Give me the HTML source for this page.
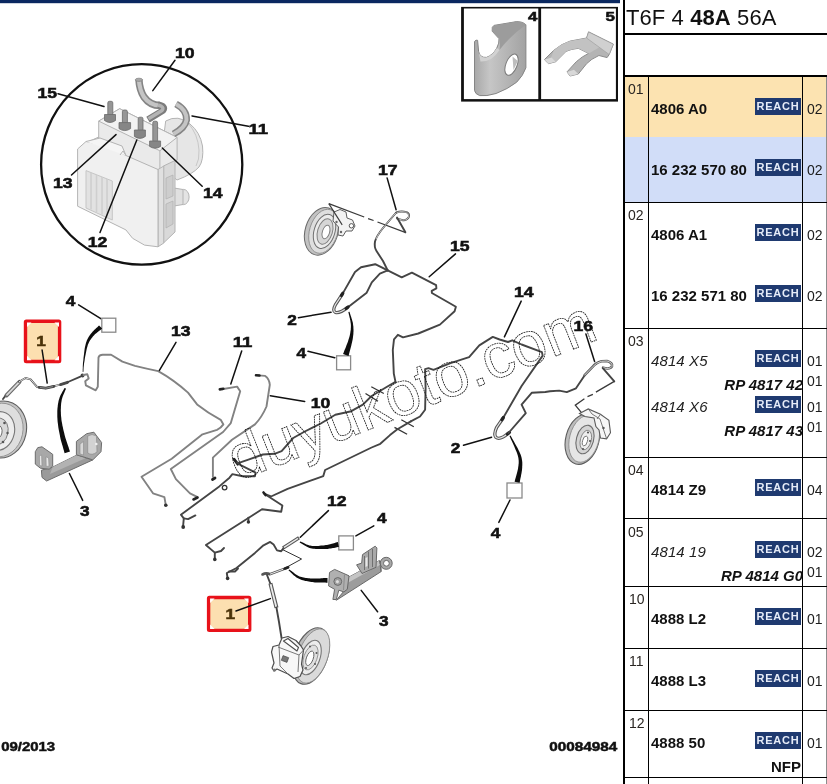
<!DOCTYPE html>
<html><head><meta charset="utf-8">
<style>
html,body{margin:0;padding:0;background:#fff;}
body{width:827px;height:784px;position:relative;overflow:hidden;font-family:"Liberation Sans",sans-serif;}
#dg{position:absolute;left:0;top:0;width:827px;height:784px;}
.a{position:absolute;}
.ln{position:absolute;background:#000;}
.num{position:absolute;font-size:14px;color:#2a2622;line-height:14px;white-space:nowrap;}
.pn{position:absolute;left:651px;font-size:15px;font-weight:bold;color:#111;line-height:15px;white-space:nowrap;letter-spacing:0;}
.pi{position:absolute;left:651px;font-size:15px;font-style:italic;color:#222;line-height:15px;white-space:nowrap;letter-spacing:0.1px;}
.rp{position:absolute;right:24px;font-size:15px;font-weight:bold;font-style:italic;color:#111;line-height:15px;white-space:nowrap;letter-spacing:0;}
.q{position:absolute;left:807px;font-size:14px;color:#1c1c1c;line-height:14px;white-space:nowrap;}
.rc{position:absolute;left:755px;width:46px;height:17px;background:#1f3a70;color:#e6ecf8;font-size:11px;font-weight:bold;line-height:17px;text-align:center;letter-spacing:0.8px;text-indent:0;}
</style></head><body><div id="wrap" style="position:absolute;left:0;top:0;width:827px;height:784px;will-change:transform;">
<!-- TABLE -->
<div class="a" style="left:625px;top:77px;width:201px;height:60px;background:#fce3b1"></div>
<div class="a" style="left:625px;top:137px;width:201px;height:65px;background:#d1ddf8"></div>
<div class="a" style="left:626px;top:5px;font-size:22px;line-height:26px;color:#111;white-space:nowrap;letter-spacing:0.1px">T6F 4 <b>48A</b> 56A</div>
<div class="ln" style="left:623px;top:0;width:2px;height:784px"></div>
<div class="ln" style="left:623px;top:33px;width:204px;height:2px"></div>
<div class="ln" style="left:623px;top:75px;width:204px;height:2px"></div>
<div class="ln" style="left:648px;top:77px;width:1px;height:707px"></div>
<div class="ln" style="left:802px;top:77px;width:1px;height:707px"></div>
<div class="ln" style="left:625px;top:202px;width:202px;height:1px"></div>
<div class="ln" style="left:625px;top:328px;width:202px;height:1px"></div>
<div class="ln" style="left:625px;top:457px;width:202px;height:1px"></div>
<div class="ln" style="left:625px;top:518px;width:202px;height:1px"></div>
<div class="ln" style="left:625px;top:586px;width:202px;height:1px"></div>
<div class="ln" style="left:625px;top:648px;width:202px;height:1px"></div>
<div class="ln" style="left:625px;top:710px;width:202px;height:1px"></div>
<div class="ln" style="left:625px;top:777px;width:202px;height:1px"></div>

<div class="num" style="left:628px;top:82px">01</div>
<div class="pn" style="top:101px">4806 A0</div><div class="rc" style="top:98px">REACH</div><div class="q" style="top:102px">02</div>
<div class="pn" style="top:162px">16 232 570 80</div><div class="rc" style="top:159px">REACH</div><div class="q" style="top:163px">02</div>

<div class="num" style="left:628px;top:208px">02</div>
<div class="pn" style="top:227px">4806 A1</div><div class="rc" style="top:224px">REACH</div><div class="q" style="top:228px">02</div>
<div class="pn" style="top:288px">16 232 571 80</div><div class="rc" style="top:285px">REACH</div><div class="q" style="top:289px">02</div>

<div class="num" style="left:628px;top:334px">03</div>
<div class="pi" style="top:353px">4814 X5</div><div class="rc" style="top:350px">REACH</div><div class="q" style="top:354px">01</div>
<div class="rp" style="top:377px">RP 4817 42</div><div class="q" style="top:374px">01</div>
<div class="pi" style="top:399px">4814 X6</div><div class="rc" style="top:396px">REACH</div><div class="q" style="top:400px">01</div>
<div class="rp" style="top:423px">RP 4817 43</div><div class="q" style="top:420px">01</div>

<div class="num" style="left:628px;top:463px">04</div>
<div class="pn" style="top:482px">4814 Z9</div><div class="rc" style="top:479px">REACH</div><div class="q" style="top:483px">04</div>

<div class="num" style="left:628px;top:525px">05</div>
<div class="pi" style="top:544px">4814 19</div><div class="rc" style="top:541px">REACH</div><div class="q" style="top:545px">02</div>
<div class="rp" style="top:568px">RP 4814 G0</div><div class="q" style="top:565px">01</div>

<div class="num" style="left:629px;top:592px">10</div>
<div class="pn" style="top:611px">4888 L2</div><div class="rc" style="top:608px">REACH</div><div class="q" style="top:612px">01</div>

<div class="num" style="left:629px;top:654px">11</div>
<div class="pn" style="top:673px">4888 L3</div><div class="rc" style="top:670px">REACH</div><div class="q" style="top:674px">01</div>

<div class="num" style="left:629px;top:716px">12</div>
<div class="pn" style="top:735px">4888 50</div><div class="rc" style="top:732px">REACH</div><div class="q" style="top:736px">01</div>
<div class="pn" style="left:auto;right:26px;top:759px">NFP</div>

<!-- DIAGRAM -->
<svg id="dg" width="827" height="784" viewBox="0 0 827 784">
<defs>
<style>
.lb{font-family:"Liberation Sans",sans-serif;font-weight:bold;font-size:14.5px;fill:#111;stroke:#111;stroke-width:.55px;text-anchor:middle;}
.ld{stroke:#111;stroke-width:1.5;fill:none;stroke-linecap:round;}
.pp{stroke:#454545;stroke-width:1.9;fill:none;stroke-linejoin:round;stroke-linecap:round;}
.pl{stroke:#828282;stroke-width:1.9;}
.hs{stroke:#111;fill:none;stroke-linecap:round;}
.sq{fill:#fff;stroke:#8a8a8a;stroke-width:1.3;}
</style>
</defs>
<!-- top bar -->
<rect x="0" y="0" width="620" height="3.2" fill="#0a2860"/>
<!-- right edge --><rect x="826.55" y="75" width=".45" height="709" fill="#000"/>
<!-- boxes 4/5 -->
<rect x="461.1" y="6.9" width="156.9" height="94.7" fill="#111"/>
<rect x="463.9" y="8.5" width="74.4" height="90.6" fill="#fff"/>
<rect x="541.1" y="8.5" width="74.8" height="90.6" fill="#fff"/>
<text class="lb" x="532.6" y="20.5" style="font-size:13px" textLength="9.4" lengthAdjust="spacingAndGlyphs">4</text>
<text class="lb" x="610.2" y="20.5" style="font-size:13px" textLength="9.4" lengthAdjust="spacingAndGlyphs">5</text>
<!-- clip 4 -->
<linearGradient id="g4" x1="0" y1="0" x2="1" y2="0"><stop offset="0" stop-color="#a8a8a8"/><stop offset=".3" stop-color="#c6c6c6"/><stop offset="1" stop-color="#a2a2a2"/></linearGradient>
<g stroke="#858585" stroke-width="1" stroke-linejoin="round">
<path d="M474.5,41.5 Q476,39.5 477.6,40.3 L478.6,51.4 Q480,58 486.5,57.4 Q493,55 496.8,48 Q499.5,43 499,38.6 L492.2,31.2 Q491.5,26.5 494,25.4 L516.7,21.6 Q523,21.5 525.9,24.7 L525.9,67.8 Q523,76 516.7,82.2 Q508,89 496.1,93.5 Q486,96.5 479.7,95.6 Q475,94 474.5,90.4 Z" fill="url(#g4)"/>
<path d="M494,25.4 L516.7,21.6 Q523,21.5 525.9,24.7 Q510,36 499.5,50 Q500.5,42 499,38.6 L492.2,31.2 Q491.5,26.5 494,25.4 Z" fill="#9c9c9c" stroke="none"/>
<path d="M478.6,51.4 Q480,58 486.5,57.4 Q493,55 496.8,48 L499.5,50 Q492,62 480.5,61.5 Z" fill="#d2d2d2" stroke="none"/>
<ellipse cx="511.5" cy="64.7" rx="5.6" ry="11.2" transform="rotate(22 511.5 64.7)" fill="#fff" stroke="#7a7a7a"/>
<path d="M512.5,56.5 L517.8,61 L513.5,70 Z" fill="#bdbdbd" stroke="none"/>
</g>
<!-- clip 5 -->
<g stroke="#8a8a8a" stroke-width="1" stroke-linejoin="round">
<path d="M544.4,59.6 L553.7,50.4 Q562,43.5 570.1,41.1 L586.6,38 L588.6,31.9 L613.3,44.2 L609.2,54.5 L607.1,57.6 L598.9,55.5 Q591,59 586.6,63.7 L578.3,74 L570.1,76 L567,71.9 L576.3,61.7 Q582,56.5 588.6,53.4 L578.3,48.3 Q571,49 566,51.4 L555.7,61.7 L548.5,63.7 Z" fill="#b4b4b4"/>
<path d="M553.7,50.4 Q562,43.5 570.1,41.1 L586.6,38 L600,47 L588.6,53.4 L578.3,48.3 Q571,49 566,51.4 L555.7,61.7 L551,58 Z" fill="#c2c2c2" stroke="none"/>
<path d="M588.6,31.9 L613.3,44.2 L609.2,54.5 L586.6,38 Z" fill="#d0d0d0" stroke="#9a9a9a" stroke-width=".6"/>
<path d="M544.4,59.6 L548.5,63.7 L555.7,61.7 L551.5,57.5 Z" fill="#d8d8d8" stroke="none"/>
<path d="M567,71.9 L570.1,76 L578.3,74 L574,69.8 Z" fill="#d8d8d8" stroke="none"/>
</g>
<!-- big circle -->
<ellipse cx="141.7" cy="164.4" rx="100.6" ry="100.2" fill="#fff" stroke="#111" stroke-width="2.3"/>
<!-- ABS unit -->
<g stroke="#b4b4b4" stroke-width="1" stroke-linejoin="round" fill="#ececec">
<!-- motor -->
<path d="M165.7,121 Q178,114 190,124 Q200,132 202.5,146 Q204,160 199,167 Q193,174 177,180 L160,166 Z" fill="#e6e6e6"/>
<path d="M188,123 Q198,134 199,150 Q199.5,160 196,166" fill="none" stroke="#c8c8c8"/>
<ellipse cx="183.5" cy="197" rx="5.6" ry="7.6" fill="#e4e4e4"/>
<path d="M174,188 L183,189.5 L183,204.5 L174,206 Z" fill="#e0e0e0"/>
<!-- valve block -->
<path d="M98.7,121.1 L119.7,108.7 L177.1,137.4 L177.1,160 L160,172 L98.7,146 Z" fill="#eaeaea"/>
<path d="M98.7,121.1 L119.7,108.7 L177.1,137.4 L159.9,150.8 Z" fill="#f2f2f2"/>
<path d="M159.9,150.8 L159.9,170" fill="none"/>
<path d="M89,141.5 L98.7,137 L98.7,146 L92,148 Z" fill="#e2e2e2"/>
<!-- connector block (right/back) -->
<path d="M163.5,166 L175,160.5 L175,232 L163.5,243 Z" fill="#d9d9d9"/>
<path d="M166,178 L173,175 L173,196 L166,199 Z M166,204 L173,201 L173,224 L166,228 Z" fill="#cdcdcd" stroke="#b0b0b0" stroke-width=".7"/>
<!-- ecu lid -->
<path d="M158,169.5 L163.8,166 L163.8,243 L158,246.8 Z" fill="#e0e0e0"/>
<path d="M77.6,149 L86,141.5 L109,146.5 L126,155.5 L158,169.5 L158,246.8 L144.5,245.1 L132.6,238.3 L125.9,229.9 L77.6,206.2 Z" fill="#f0f0f0"/>
<path d="M86,141.5 L100,138 L122,146 L126,155.5" fill="#f5f5f5"/>
<path d="M86,170.6 L112.3,181 L112.3,220 L86,208 Z" fill="#e2e2e2" stroke="#c6c6c6"/>
<path d="M91,173 L91,209.5 M96.5,175 L96.5,212 M102,177 L102,214.5 M107,179 L107,217" fill="none" stroke="#cfcfcf" stroke-width="1.6"/>
<path d="M120,155 L123,151 L126,155.5" fill="none"/>
</g>
<!-- pipes on unit -->
<g fill="none" stroke-linecap="butt" stroke-linejoin="round">
<path d="M176,104 Q187,110 186.5,120 Q185,128 173.5,134" stroke="#858585" stroke-width="7"/>
<path d="M176,104 Q187,110 186.5,120 Q185,128 173.5,134" stroke="#c4c4c4" stroke-width="4"/>
<path d="M138.9,79.5 Q139.5,90 144,97 Q150,105.5 160,105.5" stroke="#858585" stroke-width="7.4"/>
<path d="M138.9,79.5 Q139.5,90 144,97 Q150,105.5 160,105.5" stroke="#c4c4c4" stroke-width="4.2"/>
<path d="M158,104.8 Q166,106 163,110.5 L148,119.6" stroke="#7c7c7c" stroke-width="6.6"/>
<path d="M158,105 Q165,106.5 162,110.5 L148.5,118.8" stroke="#b4b4b4" stroke-width="3.4"/>
<ellipse cx="138.9" cy="79.8" rx="3.6" ry="1.6" fill="#a8a8a8" stroke="#858585" stroke-width=".8"/>
</g>
<!-- bolts -->
<g stroke="#6a6a6a" stroke-width=".8" fill="#969696">
<rect x="107.8" y="101.3" width="5" height="15" rx="1.6"/><path d="M104.5,114.5 h11 v6 q-5.5,4 -11,0 z" fill="#868686"/>
<rect x="122.4" y="110" width="5" height="14" rx="1.6"/><path d="M119,122.6 h11.6 v6 q-5.8,4 -11.6,0 z" fill="#868686"/>
<rect x="138.2" y="117.2" width="4.8" height="14" rx="1.6"/><path d="M134.4,130 h11 v6.4 q-5.5,4 -11,0 z" fill="#868686"/>
<rect x="152.8" y="121.2" width="4.8" height="21" rx="1.6"/><path d="M149.6,141 h11 v5.4 q-5.5,3.6 -11,0 z" fill="#868686"/>
</g>
<!-- circle labels -->
<line class="ld" x1="175" y1="60.3" x2="152.8" y2="90.6"/>
<line class="ld" x1="58" y1="93.8" x2="104" y2="106.5"/>
<line class="ld" x1="248.4" y1="126.3" x2="192" y2="116"/>
<line class="ld" x1="71.5" y1="175" x2="116" y2="134.6"/>
<line class="ld" x1="202.2" y1="186.3" x2="162.3" y2="148"/>
<line class="ld" x1="100" y1="232.5" x2="136.8" y2="140"/>
<text class="lb" x="184.7" y="58" textLength="19.6" lengthAdjust="spacingAndGlyphs">10</text>
<text class="lb" x="47.3" y="98" textLength="19.6" lengthAdjust="spacingAndGlyphs">15</text>
<text class="lb" x="258.3" y="133.6" textLength="19.6" lengthAdjust="spacingAndGlyphs">11</text>
<text class="lb" x="62.7" y="188.3" textLength="19.6" lengthAdjust="spacingAndGlyphs">13</text>
<text class="lb" x="212.7" y="198.3" textLength="19.6" lengthAdjust="spacingAndGlyphs">14</text>
<text class="lb" x="97.5" y="246.6" textLength="19.6" lengthAdjust="spacingAndGlyphs">12</text>
<!-- ===== left-front group ===== -->
<!-- disc left (cut) -->
<g stroke="#5e5e5e" stroke-width="1.1">
<ellipse cx="2" cy="429.5" rx="24.4" ry="28.6" transform="rotate(12 2 429.5)" fill="#c4c4c4"/>
<ellipse cx="0.5" cy="430" rx="22.4" ry="27" transform="rotate(12 0.5 430)" fill="#dedede" stroke="#8a8a8a" stroke-width=".8"/>
<ellipse cx="-1" cy="431" rx="15.5" ry="19.5" transform="rotate(12 -1 431)" fill="#ededed" stroke="#777"/>
<ellipse cx="-2" cy="431.5" rx="10" ry="13.5" transform="rotate(12 -2 431.5)" fill="#d8d8d8" stroke="#777" stroke-width=".9"/>
<ellipse cx="-3" cy="432" rx="5" ry="7" transform="rotate(12 -3 432)" fill="#fff" stroke="#666" stroke-width=".9"/>
<circle cx="4.5" cy="423" r="1.3" fill="#555" stroke="none"/><circle cx="3" cy="442" r="1.3" fill="#555" stroke="none"/><circle cx="7.5" cy="433" r="1.2" fill="#555" stroke="none"/>
</g>
<!-- hose 1 left -->
<path class="pp" d="M3,399 L6,395"/>
<path d="M6.4,395.5 L19.5,381.8" stroke="#6a6a6a" stroke-width="4" fill="none" stroke-linecap="round"/>
<path d="M7,394.8 L19,382.3" stroke="#d6d6d6" stroke-width="1.9" fill="none" stroke-linecap="round"/>
<path class="pp" d="M19,381.8 L25.5,378 L30.6,379.3 L37,386.9 L45.9,388.2 L61.2,384.4 L67.6,382.3" stroke-width="2.8" stroke="#5a5a5a"/>
<path d="M19,381.8 L25.5,378 L30.6,379.3 L37,386.9 L45.9,388.2 L61.2,384.4 L67.6,382.3" stroke="#dcdcdc" stroke-width="1" fill="none"/>
<path d="M39,387.4 L45.9,388.2 L54,386.3 M60.5,384.6 L67.6,382.3" stroke="#4a4a4a" stroke-width="2.8" fill="none" stroke-linecap="round"/>
<path d="M40,387.5 L45.9,388.2 L53,386.5" stroke="#9a9a9a" stroke-width=".8" fill="none"/>
<path class="pp" d="M68,382 L80.4,376.7" stroke-width="1.2"/>
<circle cx="82.5" cy="375.6" r="2" fill="#444"/>
<!-- black hose down to bracket -->
<!-- bracket 3 left -->
<g stroke="#6c6c6c" stroke-width="1" stroke-linejoin="round">
<path d="M52.7,467.1 L76.4,455.3 L92.8,459.9 L46.6,481 L42,477.4 L41.4,470.2 Z" fill="#9a9a9a"/>
<path d="M52.7,467.1 L76.4,455.3 L86,458 L50,474 Z" fill="#b2b2b2" stroke="none"/>
<path d="M35.3,464.1 L35.3,451.7 L37.8,447.6 L42,446.8 L52.7,454.3 L52.7,466.1 L49.2,469.2 L40.4,468.2 Z" fill="#a8a8a8"/>
<path d="M39.4,455.8 L41.6,455 L42,466 L39.6,465.6 Z M46,456.8 L48.6,458 L49,466.2 L46.2,466.4 Z" fill="#e6e6e6" stroke="#8a8a8a" stroke-width=".6"/>
<path d="M76.4,454.8 L76.4,441.4 L86.7,433.7 L93.9,432.2 L101.6,442.5 L101,451.7 L92.8,459.9 L86.7,457.9 Z" fill="#a8a8a8"/>
<path d="M87.7,436 Q92,433 96.5,436 L97,452 Q92,456 87.7,453 Z" fill="#d2d2d2" stroke="#8a8a8a" stroke-width=".7"/>
<path d="M80,444 L83.5,441.5 L83.5,455 L80,454 Z" fill="#d8d8d8" stroke="#8a8a8a" stroke-width=".6"/>
<circle cx="96.3" cy="444" r="1.3" fill="#eee" stroke="none"/>
</g>
<line class="ld" x1="69.4" y1="473.5" x2="82.7" y2="500.4"/>
<text class="lb" x="84.7" y="516.3" textLength="9.6" lengthAdjust="spacingAndGlyphs">3</text>
<!-- red box 1 (left) -->
<rect x="25.5" y="321.3" width="34.1" height="40.2" rx=".8" fill="#fcdfb0" stroke="#e8121a" stroke-width="3.4"/>
<path d="M27,322.5 l4.5,0 l-4.5,4.5 z M59,322.5 l-4.5,0 l4.5,4.5 z M27,360.2 l4.5,0 l-4.5,-4.5 z M59,360.2 l-4.5,0 l4.5,-4.5 z" fill="#fff"/>
<text class="lb" x="41" y="346" style="font-size:15px;fill:#4a3208;stroke:#4a3208" textLength="9.6" lengthAdjust="spacingAndGlyphs">1</text>
<line class="ld" x1="42.1" y1="350" x2="47.2" y2="383.1" stroke-width="1.3"/>
<!-- 4 + square left top -->
<text class="lb" x="70.5" y="306" textLength="9.6" lengthAdjust="spacingAndGlyphs">4</text>
<line class="ld" x1="78.6" y1="304.8" x2="100.8" y2="318.6"/>
<rect class="sq" x="101.8" y="318.2" width="14" height="14"/>
<!-- pipe 13 -->
<path class="pp pl" d="M83.5,375 L87.3,374.2 L88.7,378.4 L85.2,381.2 L85.9,385.4 L95.7,390.3 L97.8,386.8 L98.5,357.3 Q99.5,354.8 102.7,354.8 L111.1,354.8 L122.4,361.6 L135,365.8 Q146,368.5 158.2,371.1 Q174,380 188,392.6 L197.1,404.4 Q208,413 220.7,419.8 L223.4,424.4 Q221,428 217,429.8 L202.5,434.3 L171.7,458.8 L141.5,476.7 L153,493.3 L164.4,497.1 L165.7,504.7"/>
<circle cx="165.8" cy="505.2" r="1.8" fill="#333"/>
<text class="lb" x="180.7" y="335.9" textLength="19.6" lengthAdjust="spacingAndGlyphs">13</text>
<line class="ld" x1="176" y1="342.3" x2="159.4" y2="370.4"/>
<!-- pipe 11 -->
<path class="pp pl" d="M222,389.2 L237.1,386.6 L240.2,391.2 L230.8,423.1 L223.1,432 L170.8,469 L175.9,479.2 L190,493.3 L197.6,497.1"/>
<path d="M219.8,389.4 l3.5,-.6" stroke="#222" stroke-width="2.6" stroke-linecap="round"/>
<path d="M193.5,499.5 l4,-2" stroke="#222" stroke-width="2.6" stroke-linecap="round"/>
<text class="lb" x="242.6" y="346.6" textLength="19.6" lengthAdjust="spacingAndGlyphs">11</text>
<line class="ld" x1="241.7" y1="350.9" x2="230.8" y2="384.1"/>
<!-- pipe 10 -->
<path class="pp pl" d="M258,375.4 L265.2,375.9 Q269.5,379 269.8,384.8 L266.5,406.5 Q262,417 255,424.4 L232,439.7 L212.9,457.6 L212.9,476.7"/>
<path d="M256,375.3 l3.5,.2" stroke="#222" stroke-width="2.6" stroke-linecap="round"/>
<path d="M212.5,479.5 l2.5,-1.5" stroke="#222" stroke-width="2.8" stroke-linecap="round"/>
<text class="lb" x="320.5" y="407.8" textLength="19.6" lengthAdjust="spacingAndGlyphs">10</text>
<line class="ld" x1="304.7" y1="401.4" x2="270.3" y2="395.8"/>
<!-- ===== disc 17 ===== -->
<g stroke="#6a6a6a" stroke-width="1">
<ellipse cx="321.6" cy="231.3" rx="16.4" ry="24.4" transform="rotate(17 321.6 231.3)" fill="#c2c2c2"/>
<ellipse cx="323.6" cy="231.3" rx="14" ry="22.6" transform="rotate(17 323.6 231.3)" fill="#dedede" stroke="#8a8a8a" stroke-width=".8"/>
<ellipse cx="324.5" cy="231.4" rx="10.4" ry="17.6" transform="rotate(17 324.5 231.4)" fill="#ebebeb" stroke="#707070"/>
<ellipse cx="325" cy="231.5" rx="7.4" ry="13" transform="rotate(17 325 231.5)" fill="#d6d6d6" stroke="#808080"/>
<ellipse cx="326" cy="232" rx="3.6" ry="7" transform="rotate(17 326 232)" fill="#fff" stroke="#808080"/>
<path d="M334,212 L340,209.5 L346,212 L347,218 L352.5,220 L355,226 L352,231 L346,231 L343,236 L338,235 L338.5,227 L333,221 Z" fill="#f2f2f2" stroke="#5e5e5e"/>
<circle cx="351.4" cy="225.8" r="2.2" fill="#fff" stroke="#555"/>
<circle cx="336.5" cy="222" r="1.2" fill="#666" stroke="none"/><circle cx="341" cy="232" r="1.2" fill="#666" stroke="none"/>
</g>
<path d="M328.8,203.6 L364.2,217 M368.1,218.6 L373.6,220.5 M377.5,222 L405.8,232.7" stroke="#3a3a3a" stroke-width="1.3" fill="none"/>
<path d="M328.8,203.6 L342.2,224.9" stroke="#3a3a3a" stroke-width="1.1" fill="none"/>
<!-- hose 17 -->
<path class="pp" d="M396.4,212.5 Q401,210.8 406.6,212.2 Q410.2,214 408.6,217.6 Q406.5,220.8 402.5,220.2 L397.2,218.6" stroke-width="2.4" stroke="#5a5a5a"/>
<path d="M396.4,212.5 Q401,210.8 406.6,212.2 Q410.2,214 408.6,217.6 Q406.5,220.8 402.5,220.2 L397.2,218.6" stroke="#e4e4e4" stroke-width=".8" fill="none"/>
<path class="pp" d="M397,217.5 L405.4,232.2" stroke-width="1.1"/>
<path class="pp" d="M395.8,213 L383,228 Q376.5,236 375,241.5 Q374,247 376.5,251 L383,261 L387.7,270.4" stroke-width="2.2" stroke="#5a5a5a"/>
<path d="M395.8,213 L383,228 Q378,234 376,239" stroke="#e4e4e4" stroke-width=".8" fill="none"/>
<text class="lb" x="387.8" y="175" textLength="19.6" lengthAdjust="spacingAndGlyphs">17</text>
<line class="ld" x1="387.1" y1="177.9" x2="396.1" y2="209.7"/>
<!-- pipe 15 -->
<path class="pp" d="M387.7,270.4 L401.7,277.4 L411.9,272.7 L436.1,285.1 L436.4,288.3 L431.7,290.8 L431.9,293 L455.9,306.8 L454.6,311.2 L439.9,324.6 L418.3,333.5 L403,337.4 L397.9,334.8 L394,339.3 L392.8,350 L393.8,373.6 L395.5,381.9"/>
<text class="lb" x="459.8" y="250.7" textLength="19.6" lengthAdjust="spacingAndGlyphs">15</text>
<line class="ld" x1="455.5" y1="253.9" x2="429.2" y2="276.8"/>
<!-- left branch to hose 2 -->
<path class="pp" d="M387.7,270.4 L375.2,264.2 L361,267.3 L355,272 L342.5,293.9 L335,305" stroke-width="1.8"/>
<path class="pp" d="M387.7,270.4 L379.9,273.6 L371.8,282.4 L366.7,292.7 L347.6,307.4" stroke-width="1.8"/>
<path d="M342.5,293.9 L335.5,304.5 Q332,311 335.5,312.5 Q340,313.5 347.6,307.4" stroke="#555" stroke-width="3.3" fill="none" stroke-linecap="round"/>
<path d="M342.5,293.9 L335.5,304.5 Q332,311 335.5,312.5 Q340,313.5 347.6,307.4" stroke="#e4e4e4" stroke-width="1.2" fill="none" stroke-linecap="round"/>
<path d="M341.3,295.6 l1.6,-2.4 M346,308.6 l2.2,-1.8" stroke="#222" stroke-width="3" stroke-linecap="round"/>
<text class="lb" x="292" y="324.5" textLength="9.6" lengthAdjust="spacingAndGlyphs">2</text>
<line class="ld" x1="298.4" y1="317.7" x2="331" y2="312.3"/>
<rect class="sq" x="336.6" y="355.8" width="14" height="14"/>
<text class="lb" x="301.4" y="357.7" textLength="9.6" lengthAdjust="spacingAndGlyphs">4</text>
<line class="ld" x1="308" y1="351.3" x2="334.8" y2="357.7"/>
<!-- ===== main harness upper line (14) ===== -->
<path class="pp" d="M238.2,463.2 L248.4,459.6 L262.9,454.5 L274.5,453.8 L281.6,451.1 L293.2,438 L304.8,431.5 L320.8,423.5 L335.3,414.8 L351.3,411.2 L362.9,404.7 L371.6,396 L386.6,387 L395.5,381.9"/>
<path class="pp" d="M410.8,421.4 L420,416.5 L425.1,409.7 L425.6,388.3 L425.1,369.1 L428.5,368.2 L433.5,369.9 L450.5,363.2 L469.1,357.2 L479.3,345.4 L492.8,336.9 L499.6,339.5 L508,342 L512.3,340.3 L521.6,344.5 L541.9,352.2 L542.7,355.6 L521.6,386 L503,418.2"/>
<path d="M234,459.2 L237.8,464.2" stroke="#222" stroke-width="2.8" stroke-linecap="round" fill="none"/>
<!-- break marks -->
<path d="M371.3,386.8 L383.8,393.5 M365.5,393.5 L378,401.3 M394.5,427.4 L407.1,434.2 M401.3,419.7 L413.8,426.8" stroke="#333" stroke-width="1.3" fill="none"/>
<text class="lb" x="523.7" y="297.2" textLength="19.6" lengthAdjust="spacingAndGlyphs">14</text>
<line class="ld" x1="521.2" y1="301.1" x2="504.4" y2="336.9"/>
<!-- hose 2 right -->
<path d="M503,418.2 L496.6,427.5 Q493.5,434.5 495.8,437.3 Q500,440.6 508.5,433" stroke="#555" stroke-width="3.3" fill="none" stroke-linecap="round"/>
<path d="M503,418.2 L496.6,427.5 Q493.5,434.5 495.8,437.3 Q500,440.6 508.5,433" stroke="#e4e4e4" stroke-width="1.2" fill="none" stroke-linecap="round"/>
<path d="M501.8,419.8 l1.6,-2.4 M507.4,434.2 l2.2,-1.8" stroke="#222" stroke-width="3" stroke-linecap="round"/>
<path class="pp" d="M508.5,433 L525.8,413.1 L521.6,404.6 L531.7,392.8 L545.3,392 L550,391.3 L559.2,390.6 L566.8,392.1 L576,388.3 L584.4,375.8" stroke-width="1.8"/>
<path d="M584.4,375.3 L592.3,367.2 Q596,362.5 601.5,361.3 L607,361 Q612.8,362.6 612,366.4 Q610,369.8 603,367.6" stroke="#5a5a5a" stroke-width="2.5" fill="none" stroke-linecap="round"/>
<path d="M584.4,375.3 L592.3,367.2 Q596,362.5 601.5,361.3 L607,361 Q612.8,362.6 612,366.4 Q610,369.8 603,367.6" stroke="#e4e4e4" stroke-width=".9" fill="none"/>
<path class="pp" d="M602.8,368.2 L614.3,381.4" stroke-width="1.3"/>
<path d="M614.3,381.4 L595.9,392.1 M592.9,394.4 L587.5,396.7 M584.4,398.7 L575.3,405.1 L582.9,414.3" stroke="#3a3a3a" stroke-width="1.3" fill="none"/>
<text class="lb" x="583.2" y="331" textLength="19.6" lengthAdjust="spacingAndGlyphs">16</text>
<line class="ld" x1="585.9" y1="334" x2="594.6" y2="361.5"/>
<text class="lb" x="455.6" y="452.6" textLength="9.6" lengthAdjust="spacingAndGlyphs">2</text>
<line class="ld" x1="463.5" y1="445.3" x2="491.6" y2="437.3"/>
<rect class="sq" x="507" y="483" width="15" height="15"/>
<text class="lb" x="495.5" y="538.4" textLength="9.6" lengthAdjust="spacingAndGlyphs">4</text>
<line class="ld" x1="510" y1="500" x2="498.8" y2="522.4"/>
<!-- disc 16 -->
<g stroke="#5c5c5c" stroke-width="1.1">
<ellipse cx="582.4" cy="439.2" rx="16.6" ry="25.6" transform="rotate(15 582.4 439.2)" fill="#bdbdbd"/>
<ellipse cx="584.2" cy="438.8" rx="14.6" ry="24" transform="rotate(15 584.2 438.8)" fill="#e6e6e6" stroke="#8a8a8a" stroke-width=".8"/>
<ellipse cx="585" cy="439.5" rx="8.6" ry="14.6" transform="rotate(15 585 439.5)" fill="#d4d4d4" stroke="#6e6e6e"/>
<ellipse cx="585.8" cy="440" rx="5.4" ry="10" transform="rotate(15 585.8 440)" fill="#ededed" stroke="#7a7a7a" stroke-width=".8"/>
<ellipse cx="585" cy="441" rx="2.4" ry="5" transform="rotate(15 585 441)" fill="#fff" stroke="#666" stroke-width=".8"/>
<circle cx="588" cy="432.5" r="1.1" fill="#555" stroke="none"/><circle cx="583" cy="449" r="1.1" fill="#555" stroke="none"/><circle cx="590" cy="441" r="1.1" fill="#555" stroke="none"/>
<path d="M579.5,413.5 L588.3,408.9 L600.5,414.3 L608.9,420.4 L610.5,432.7 L606.6,438.8 L600.5,438 L599,430 L595.9,426.5 L594,418 L585,416.5 Z" fill="#f6f6f6" stroke="#5a5a5a"/>
<path d="M588.3,408.9 L592,414 L600,419 L603,428 L606.6,438.8 M600.5,414.3 L597,419" fill="none" stroke="#6a6a6a" stroke-width=".9"/>
<circle cx="603.5" cy="428" r="1.2" fill="#555" stroke="none"/>
</g>
<!-- ===== lower harness lines ===== -->
<!-- line B -->
<path class="pp" d="M183.1,526 L183.8,518.4 L180.9,514.7 L219.3,486.4 L229.5,477.7 L232.4,474.1 L242.5,476.3 L254.9,476.3 L255.6,472.6 L241.1,465.4 L237,462.5"/>
<path class="pp" d="M183.8,518.4 L188.1,519.1 L195.4,515.4"/>
<circle cx="224.6" cy="487.6" r="2.3" fill="none" stroke="#333" stroke-width="1.3"/>
<circle cx="183.2" cy="527" r="1.9" fill="#333"/>
<!-- line C (12 lower pipe) -->
<path class="pp" d="M264.6,494 L271,496.5 L287.6,488.9 L323.3,476.1 L325.1,470 L371.6,447.5 L380.3,443.8 L390,435.1 L397.4,429.3 L410.8,421.4"/>
<path class="pp" d="M264.6,494 L282.4,505.5 L281.2,511.8 L262,509.3 L248,518.2 L205.9,545 L214.8,552.6 L214.8,558"/>
<path d="M263.5,492.5 l2.2,2.6" stroke="#222" stroke-width="2.6" stroke-linecap="round"/>
<path class="pp" d="M214.8,552.6 L221,551 L224,548"/>
<path class="pp" d="M248.4,517.6 L248.4,521"/><circle cx="248.4" cy="522" r="1.7" fill="#333"/>
<circle cx="214.8" cy="559.4" r="1.8" fill="#333"/>
<!-- line D -->
<path class="pp" d="M227.4,577 L226.8,573 L236.5,568 L255,552.9 L263.5,545.3 L270.2,541.9 L273.6,544.5 L277,550.4 L281.2,551.2 L283.8,547.9"/>
<path class="pp" d="M229,571.5 L235,571.5 L238,568.5"/>
<circle cx="227.6" cy="578.4" r="1.8" fill="#333"/>
<path d="M283,548 L299,537.8" stroke="#555" stroke-width="3.4" stroke-linecap="butt" fill="none"/>
<path d="M284,547.4 L298,538.4" stroke="#e8e8e8" stroke-width="1.4" fill="none"/>
<path d="M282.4,549.5 L301.6,559 L287.6,566.7" stroke="#333" stroke-width="1" fill="none"/>
<text class="lb" x="336.7" y="506.3" textLength="19.6" lengthAdjust="spacingAndGlyphs">12</text>
<line class="ld" x1="328.4" y1="510.6" x2="300.3" y2="537.3"/>
<!-- connector 1 lower -->
<path d="M262.5,574.5 Q266,572.5 270,574.2 L287.6,567.6" stroke="#555" stroke-width="2.6" fill="none" stroke-linecap="round"/>
<path d="M270,574.2 L283,569.3" stroke="#e8e8e8" stroke-width="1" fill="none"/>
<path d="M285,568.5 l3.2,-1.2" stroke="#222" stroke-width="2.6" stroke-linecap="round"/>
<path class="pp" d="M267,575 L270.3,583.5"/>
<path d="M270.4,583.3 L276.5,607.8" stroke="#555" stroke-width="4" fill="none"/>
<path d="M270.6,584.2 L276.2,606.8" stroke="#ececec" stroke-width="1.8" fill="none"/>
<path class="pp" d="M276.5,607.8 L279,622 L281.6,638.4" stroke-width="1.3"/>
<!-- black hoses -->
<rect class="sq" x="338.8" y="535.9" width="14.6" height="14"/>
<text class="lb" x="381.8" y="523" textLength="9.6" lengthAdjust="spacingAndGlyphs">4</text>
<line class="ld" x1="373.8" y1="525.9" x2="355.9" y2="535.9"/>
<!-- bracket 3 right -->
<g stroke="#686868" stroke-width="1" stroke-linejoin="round">
<path d="M336.3,600.3 L381.1,571.6 L379.4,560.6 L348.1,577.5 L344,591 Z" fill="#9c9c9c"/>
<path d="M348.1,577.5 L379.4,560.6 L380,565 L347.5,583 Z" fill="#c4c4c4" stroke="none"/>
<path d="M356.6,564.8 L361.7,563.1 L362.5,554.6 L375.2,546.2 L376.9,547.9 L376,567.3 L362,573.5 Z" fill="#aaaaaa"/>
<path d="M364.5,556 L364.5,570 M368.5,551.5 L368.5,568.5 M372.5,549 L372.5,567" stroke="#6f6f6f" fill="none"/>
<path d="M365.5,558 L367.5,557 L367.5,566 L365.5,567 Z" fill="#e8e8e8" stroke="none"/>
<circle cx="386.2" cy="563.3" r="6" fill="#a8a8a8"/><circle cx="386.4" cy="563.3" r="2.9" fill="#fff"/>
<path d="M379.4,560.6 L381,566.5 L381.1,571.6" fill="none"/>
<path d="M329.5,572.4 L334.6,569.4 L349,575.8 L347.3,589.3 L343.9,591.9 L338.8,590.2 L336.3,599.5 L332.9,599.5 L334.6,589.3 L328.6,585.9 Z" fill="#b0b0b0"/>
<circle cx="337.8" cy="581.5" r="3.9" fill="#a2a2a2"/><circle cx="337.4" cy="581.7" r="2" fill="#dedede" stroke="#8a8a8a" stroke-width=".6"/>
<path d="M344.5,574.5 L343.5,590" fill="none" stroke="#8c8c8c"/>
</g>
<text class="lb" x="383.7" y="626" textLength="9.6" lengthAdjust="spacingAndGlyphs">3</text>
<line class="ld" x1="361.2" y1="590.4" x2="377.6" y2="611.8"/>
<!-- red box 1 lower -->
<rect x="208.6" y="597.5" width="41.1" height="32.9" rx=".8" fill="#fcdfb0" stroke="#e8121a" stroke-width="3.4"/>
<path d="M210.1,598.5 l4.5,0 l-4.5,4.5 z M248.5,598.5 l-4.5,0 l4.5,4.5 z M210.1,629.1 l4.5,0 l-4.5,-4.5 z M248.5,629.1 l-4.5,0 l4.5,-4.5 z" fill="#fff"/>
<text class="lb" x="230.2" y="618.7" style="font-size:15px;fill:#4a3208;stroke:#4a3208" textLength="9.6" lengthAdjust="spacingAndGlyphs">1</text>
<line class="ld" x1="236" y1="611" x2="270.4" y2="598.6" stroke-width="1.3"/>
<!-- caliper + disc 1 -->
<g stroke="#5e5e5e" stroke-width="1.1" stroke-linejoin="round">
<ellipse cx="311" cy="656" rx="16.4" ry="29.4" transform="rotate(20 311 656)" fill="#bcbcbc"/>
<ellipse cx="313" cy="656" rx="14.6" ry="28.4" transform="rotate(20 313 656)" fill="#dadada" stroke="#8a8a8a" stroke-width=".8"/>
<ellipse cx="310.5" cy="657.5" rx="9.4" ry="18" transform="rotate(20 310.5 657.5)" fill="#ececec" stroke="#777"/>
<ellipse cx="310.5" cy="657.5" rx="6.6" ry="13" transform="rotate(20 310.5 657.5)" fill="#e0e0e0" stroke="#8a8a8a" stroke-width=".8"/>
<ellipse cx="309.8" cy="658.3" rx="3.4" ry="7.6" transform="rotate(20 309.8 658.3)" fill="#fff" stroke="#666" stroke-width=".9"/>
<circle cx="310" cy="646.5" r="1" fill="#555" stroke="none"/><circle cx="316.5" cy="653" r="1" fill="#555" stroke="none"/><circle cx="315" cy="664" r="1" fill="#555" stroke="none"/><circle cx="306" cy="668" r="1" fill="#555" stroke="none"/>
<path d="M271.5,652 L273,646.5 L279,645 L282,638 L288,636.5 L296,640.5 L301,646 L303.5,650 L301.5,664 L303,670 L300,676.5 L294,678.5 L288,674 L277,669 L274,671 L272,668 L274,663 Z" fill="#f7f7f7" stroke="#4e4e4e" stroke-width="1.2"/>
<path d="M283.5,641 L288,638.5 L298.5,647.5 L297,651 Z" fill="#fff" stroke="#4e4e4e"/>
<path d="M278,647 L299,655 L298,672 M279,645 L280,666 L288,674 M299,655 L303.5,650" fill="none" stroke="#6a6a6a" stroke-width=".9"/>
<rect x="282" y="656.5" width="6" height="5" fill="#777" stroke="#444" stroke-width=".6" transform="rotate(20 285 659)"/>
<circle cx="274.5" cy="670" r="1.6" fill="#777" stroke="none"/>
</g>
<!-- date / ref -->
<text x="1.2" y="750.8" textLength="54" lengthAdjust="spacingAndGlyphs" style='font-family:"Liberation Sans",sans-serif;font-weight:bold;font-size:13px;fill:#111;stroke:#111;stroke-width:.5px'>09/2013</text>
<text x="549.2" y="750.8" textLength="68" lengthAdjust="spacingAndGlyphs" style='font-family:"Liberation Sans",sans-serif;font-weight:bold;font-size:13px;fill:#111;stroke:#111;stroke-width:.5px'>00084984</text>
<!-- watermark -->
<text x="238.1" y="481.2" transform="rotate(-21.5 238.1 481.2)" style='font-family:"Liberation Sans",sans-serif;font-size:62.5px;fill:none;stroke:#111;stroke-width:.8px;stroke-dasharray:1.8 .7'>duyukoto.com</text>
<!-- hoses -->
<path d="M83.3,372.0 L83.4,371.2 L83.5,370.4 L83.5,369.7 L83.5,368.9 L83.6,368.2 L83.6,367.5 L83.7,366.7 L83.8,365.9 L83.9,365.0 L84.0,364.1 L84.1,363.2 L84.3,362.1 L84.5,360.9 L84.7,359.6 L84.9,358.1 L85.2,356.6 L85.5,355.1 L85.8,353.5 L86.1,352.0 L86.4,350.4 L86.7,349.0 L87.1,347.6 L87.5,346.3 L87.8,345.1 L88.2,344.1 L88.6,343.2 L89.0,342.3 L89.4,341.5 L89.8,340.7 L90.2,340.0 L90.7,339.4 L91.2,338.7 L91.7,338.0 L92.2,337.4 L92.7,336.7 L93.3,336.0 L93.9,335.4 L94.5,334.8 L95.2,334.1 L95.9,333.5 L96.6,332.9 L97.4,332.3 L98.1,331.7 L98.9,331.1 L99.7,330.5 L100.5,329.9 L101.3,329.3 L102.1,328.6 L99.1,325.4 L98.4,326.1 L97.8,326.7 L97.0,327.4 L96.3,328.1 L95.6,328.7 L94.8,329.4 L94.1,330.1 L93.4,330.9 L92.7,331.6 L92.0,332.4 L91.3,333.2 L90.7,334.0 L90.1,334.7 L89.6,335.5 L89.1,336.3 L88.6,337.0 L88.2,337.8 L87.8,338.6 L87.3,339.5 L86.9,340.3 L86.6,341.3 L86.2,342.3 L85.9,343.3 L85.6,344.5 L85.3,345.7 L85.0,347.1 L84.7,348.5 L84.5,350.1 L84.3,351.7 L84.1,353.3 L83.9,354.9 L83.7,356.4 L83.5,357.9 L83.4,359.4 L83.3,360.7 L83.1,361.9 L83.0,363.0 L82.9,364.0 L82.9,365.0 L82.8,365.8 L82.8,366.7 L82.8,367.4 L82.8,368.2 L82.7,368.9 L82.7,369.7 L82.7,370.4 L82.7,371.2 L82.7,372.0 Z" fill="#0d0d0d"/>
<path d="M64.6,387.9 L64.1,388.8 L63.6,389.8 L63.0,390.7 L62.5,391.6 L62.0,392.6 L61.5,393.5 L60.9,394.5 L60.4,395.6 L60.0,396.6 L59.5,397.7 L59.2,398.9 L58.8,400.1 L58.5,401.3 L58.3,402.6 L58.0,403.9 L57.8,405.3 L57.7,406.7 L57.5,408.1 L57.4,409.5 L57.3,410.9 L57.3,412.4 L57.3,413.9 L57.3,415.3 L57.3,416.8 L57.4,418.3 L57.5,419.9 L57.6,421.4 L57.8,423.0 L58.0,424.6 L58.2,426.2 L58.4,427.8 L58.7,429.4 L59.0,431.0 L59.3,432.6 L59.6,434.1 L59.9,435.6 L60.2,437.2 L60.5,438.7 L60.9,440.2 L61.3,441.7 L61.7,443.1 L62.1,444.6 L62.6,446.0 L63.0,447.5 L63.4,448.9 L63.8,450.3 L64.2,451.8 L64.6,453.2 L70.0,451.6 L69.5,450.2 L69.0,448.7 L68.6,447.3 L68.1,445.9 L67.6,444.5 L67.1,443.0 L66.6,441.6 L66.2,440.2 L65.7,438.8 L65.3,437.4 L64.9,436.0 L64.5,434.6 L64.2,433.1 L63.8,431.6 L63.4,430.1 L63.1,428.5 L62.8,427.0 L62.4,425.5 L62.2,423.9 L61.9,422.4 L61.6,420.9 L61.4,419.4 L61.3,418.0 L61.1,416.6 L61.0,415.2 L60.9,413.8 L60.9,412.4 L60.8,411.0 L60.8,409.6 L60.9,408.3 L60.9,406.9 L61.0,405.6 L61.1,404.3 L61.2,403.1 L61.4,401.9 L61.6,400.7 L61.8,399.6 L62.1,398.5 L62.4,397.5 L62.7,396.5 L63.1,395.5 L63.5,394.5 L64.0,393.6 L64.4,392.6 L64.8,391.6 L65.2,390.6 L65.7,389.6 L66.0,388.5 Z" fill="#0d0d0d"/>
<path d="M348.3,311.9 L348.6,313.1 L348.8,314.2 L349.1,315.3 L349.4,316.4 L349.6,317.5 L349.9,318.6 L350.1,319.7 L350.4,320.8 L350.5,321.9 L350.7,323.0 L350.8,324.0 L350.9,325.1 L350.9,326.1 L350.9,327.2 L350.8,328.2 L350.8,329.2 L350.7,330.2 L350.5,331.1 L350.4,332.1 L350.2,333.2 L350.0,334.2 L349.8,335.3 L349.5,336.4 L349.2,337.6 L348.8,338.8 L348.4,340.1 L348.0,341.4 L347.5,342.7 L347.0,344.1 L346.4,345.5 L345.9,346.9 L345.3,348.4 L344.7,349.8 L344.1,351.3 L343.6,352.7 L343.0,354.1 L348.6,355.9 L348.9,354.4 L349.3,353.0 L349.7,351.5 L350.1,350.0 L350.5,348.5 L350.9,347.0 L351.3,345.5 L351.6,344.0 L352.0,342.5 L352.3,341.1 L352.6,339.7 L352.8,338.4 L353.0,337.1 L353.1,335.9 L353.3,334.7 L353.4,333.6 L353.4,332.5 L353.5,331.4 L353.5,330.3 L353.5,329.2 L353.4,328.2 L353.4,327.1 L353.3,326.0 L353.1,324.9 L353.0,323.8 L352.8,322.6 L352.5,321.5 L352.2,320.4 L351.9,319.3 L351.5,318.2 L351.2,317.1 L350.8,316.0 L350.5,314.9 L350.1,313.8 L349.8,312.7 L349.5,311.7 Z" fill="#0d0d0d"/>
<path d="M509.5,436.0 L510.2,437.6 L511.0,439.4 L511.8,441.1 L512.6,442.8 L513.4,444.6 L514.2,446.3 L514.9,448.0 L515.6,449.7 L516.3,451.3 L516.9,452.8 L517.4,454.2 L517.8,455.6 L518.1,456.8 L518.4,457.9 L518.5,458.9 L518.6,459.8 L518.7,460.7 L518.7,461.6 L518.7,462.4 L518.7,463.2 L518.6,464.1 L518.5,465.1 L518.4,466.1 L518.2,467.1 L518.1,468.2 L517.9,469.3 L517.6,470.5 L517.3,471.7 L517.0,472.9 L516.7,474.1 L516.3,475.4 L516.0,476.6 L515.6,477.9 L515.2,479.2 L514.9,480.5 L514.6,481.8 L519.6,482.8 L519.9,481.6 L520.1,480.3 L520.3,479.1 L520.6,477.8 L520.9,476.5 L521.1,475.1 L521.4,473.8 L521.6,472.5 L521.8,471.2 L522.0,470.0 L522.1,468.7 L522.2,467.5 L522.2,466.4 L522.3,465.3 L522.3,464.3 L522.3,463.4 L522.3,462.4 L522.2,461.4 L522.1,460.4 L521.9,459.4 L521.7,458.3 L521.4,457.1 L521.1,455.9 L520.6,454.6 L520.0,453.2 L519.4,451.8 L518.6,450.2 L517.8,448.6 L517.0,447.0 L516.1,445.4 L515.1,443.7 L514.2,442.0 L513.2,440.3 L512.3,438.7 L511.4,437.0 L510.5,435.4 Z" fill="#0d0d0d"/>
<path d="M299.6,542.4 L300.5,542.9 L301.3,543.4 L302.2,544.0 L303.0,544.5 L303.8,545.1 L304.7,545.6 L305.6,546.1 L306.5,546.6 L307.4,547.1 L308.5,547.5 L309.5,547.9 L310.7,548.2 L311.8,548.5 L313.1,548.7 L314.4,548.8 L315.7,549.0 L317.1,549.0 L318.5,549.1 L319.8,549.1 L321.2,549.1 L322.5,549.1 L323.8,549.0 L325.1,549.0 L326.3,548.9 L327.5,548.9 L328.6,548.8 L329.7,548.6 L330.8,548.5 L331.9,548.3 L332.9,548.1 L334.0,547.9 L335.0,547.7 L336.0,547.5 L336.9,547.3 L337.9,547.1 L338.9,546.9 L337.9,542.1 L336.9,542.3 L335.8,542.6 L334.8,542.9 L333.9,543.2 L332.9,543.5 L331.9,543.7 L331.0,544.0 L330.0,544.2 L329.0,544.5 L328.0,544.7 L327.0,544.9 L325.9,545.1 L324.8,545.2 L323.5,545.4 L322.3,545.5 L321.0,545.6 L319.7,545.8 L318.4,545.9 L317.1,545.9 L315.8,546.0 L314.6,546.0 L313.4,546.0 L312.2,545.9 L311.1,545.8 L310.1,545.6 L309.2,545.4 L308.3,545.1 L307.4,544.7 L306.5,544.4 L305.6,543.9 L304.7,543.5 L303.8,543.1 L302.9,542.6 L302.0,542.2 L301.1,541.7 L300.2,541.4 Z" fill="#0d0d0d"/>
<path d="M288.5,570.4 L289.3,571.1 L290.1,571.8 L290.8,572.5 L291.6,573.2 L292.4,574.0 L293.1,574.7 L293.9,575.4 L294.8,576.1 L295.6,576.8 L296.5,577.5 L297.5,578.1 L298.5,578.6 L299.6,579.1 L300.6,579.5 L301.8,579.9 L302.9,580.3 L304.0,580.6 L305.2,580.9 L306.4,581.1 L307.6,581.3 L308.8,581.6 L310.0,581.7 L311.2,581.9 L312.4,582.1 L313.7,582.2 L314.9,582.4 L316.2,582.5 L317.5,582.5 L318.7,582.6 L320.0,582.6 L321.3,582.6 L322.6,582.6 L323.8,582.6 L325.1,582.6 L326.3,582.7 L327.5,582.7 L327.5,577.9 L326.2,578.0 L324.9,578.0 L323.7,578.1 L322.4,578.2 L321.2,578.3 L319.9,578.4 L318.7,578.4 L317.5,578.5 L316.3,578.5 L315.1,578.6 L313.9,578.5 L312.8,578.5 L311.6,578.4 L310.4,578.4 L309.2,578.3 L308.1,578.2 L306.9,578.0 L305.8,577.9 L304.7,577.7 L303.6,577.5 L302.5,577.3 L301.5,577.0 L300.5,576.7 L299.5,576.4 L298.6,576.0 L297.7,575.5 L296.8,575.0 L296.0,574.5 L295.2,573.9 L294.3,573.3 L293.5,572.6 L292.7,572.0 L291.9,571.3 L291.0,570.7 L290.1,570.0 L289.3,569.4 Z" fill="#0d0d0d"/>

</svg>
</div></body></html>
